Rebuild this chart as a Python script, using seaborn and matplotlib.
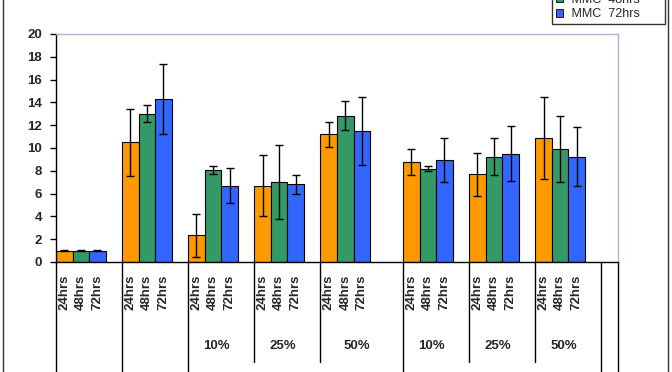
import matplotlib
matplotlib.use("Agg")
import matplotlib.pyplot as plt
from matplotlib.patches import Patch, Rectangle
import numpy as np
import pandas as pd
import seaborn as sns

# values
series = ["MMC 24hrs", "MMC 48hrs", "MMC 72hrs"]
hours = ["24hrs", "48hrs", "72hrs"]
groups = ["", "", "10%", "25%", "50%", "10%", "25%", "50%"]
means_24 = [1.0, 10.5, 2.35, 6.7, 11.2, 8.75, 7.7, 10.9]
means_48 = [1.0, 13.0, 8.05, 7.0, 12.85, 8.2, 9.25, 9.9]
means_72 = [1.0, 14.3, 6.7, 6.8, 11.5, 8.95, 9.5, 9.25]
err_24 = [0.05, 2.95, 1.9, 2.65, 1.1, 1.15, 1.9, 3.6]
err_48 = [0.05, 0.75, 0.35, 3.25, 1.25, 0.2, 1.6, 2.9]
err_72 = [0.05, 3.1, 1.55, 0.85, 2.95, 1.9, 2.4, 2.6]

colors = ["#FF9900", "#339966", "#3366FF"]

# layout: each bar gets a slot, blank slots after every group
blank_after = [1, 1, 1, 1, 2, 1, 1, 1]
starts = []
pos = 0
for b in blank_after:
    starts.append(pos)
    pos += 3 + b
n_slots = pos + 1  # one empty slot at the end

rows = []
for g in range(len(groups)):
    for s, (m, e) in enumerate(zip([means_24, means_48, means_72], [err_24, err_48, err_72])):
        rows.append({"x": starts[g] + s + 0.5, "value": m[g], "err": e[g],
                     "series": series[s], "hrs": hours[s], "group": groups[g]})
df = pd.DataFrame(rows)

sns.set_style("white")
plt.rcParams["font.family"] = ["Liberation Sans", "DejaVu Sans"]

fig = plt.figure(figsize=(6.72, 3.72), dpi=100)
ax = fig.add_axes([56 / 672, 110 / 372, 562 / 672, 228 / 372])

sns.barplot(data=df, x="x", y="value", hue="series", hue_order=series,
            palette=colors, native_scale=True, dodge=False, width=1,
            edgecolor="black", linewidth=0.8, errorbar=None, legend=False,
            saturation=1, ax=ax)
ax.errorbar(df["x"], df["value"], yerr=df["err"], fmt="none",
            ecolor="black", elinewidth=1, capsize=3, capthick=1)

ax.set_xlim(0, n_slots)
ax.set_ylim(0, 20)
ax.set_yticks(np.arange(0, 21, 2))
ax.set_xticks([])
ax.set_xlabel("")
ax.set_ylabel("")
ax.tick_params(axis="y", direction="out", length=4, width=1, pad=6,
               labelsize=9.5, left=True, color="black")
for lab in ax.get_yticklabels():
    lab.set_fontweight("bold")
ax.spines["left"].set_color("black")
ax.spines["bottom"].set_color("black")
for side in ["top", "right"]:
    ax.spines[side].set_color("#A8B8D8")
for sp in ax.spines.values():
    sp.set_linewidth(1)

# multi-level category axis drawn below the plot
trans = ax.get_xaxis_transform()
full = [0, starts[1], starts[2], starts[5], n_slots - 1, n_slots]
short = [starts[3], starts[4], starts[6], starts[7]]
for x in full:
    ax.plot([x, x], [0, -0.6], color="black", lw=1, transform=trans, clip_on=False)
for x in short:
    ax.plot([x, x], [0, -0.44], color="black", lw=1, transform=trans, clip_on=False)

for _, r in df.iterrows():
    ax.text(r["x"], -0.055, r["hrs"], rotation=90, ha="center", va="top",
            fontsize=9.5, fontweight="bold", transform=trans)

for g, name in enumerate(groups):
    if name:
        ax.text(starts[g] + (3 + blank_after[g]) / 2 - 0.3, -0.37, name, ha="center",
                va="center", fontsize=9.5, fontweight="bold", transform=trans)

# outer chart frame (only the sides show)
fig.add_artist(Rectangle((3 / 672, -0.1), 665 / 672, 1.3, fill=False,
                         edgecolor="#333333", lw=1, transform=fig.transFigure))

# legend sits partly above the top edge, as in the cropped original
handles = [Patch(facecolor=c, edgecolor="black", lw=0.6) for c in colors]
leg = fig.legend(handles, series, loc="lower right", bbox_to_anchor=(665 / 672, 348 / 372),
                 frameon=True, fancybox=False, edgecolor="black", fontsize=9,
                 handlelength=0.6, handleheight=0.6, handletextpad=0.4,
                 borderpad=0.3, labelspacing=0.2, borderaxespad=0)
leg.get_frame().set_linewidth(1)
for t in leg.get_texts():
    t.set_text(" " + t.get_text().replace(" ", "  ") + "      ")

fig.savefig("out.png", dpi=100)
